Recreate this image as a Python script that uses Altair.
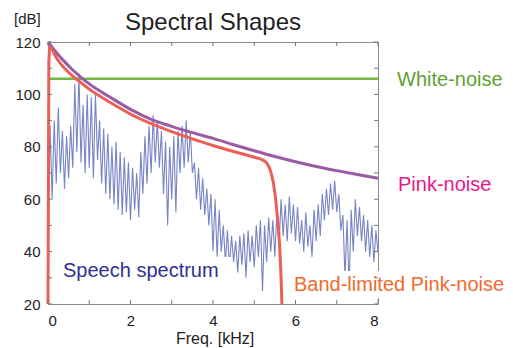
import altair as alt
import pandas as pd

# ---------------- data ----------------
freq_ticks = [0, 1, 2, 3, 4, 5, 6, 7, 8]
db_ticks = [20, 30, 40, 50, 60, 70, 80, 90, 100, 110, 120]
x_labels = [0, 2, 4, 6, 8]
y_labels = [20, 40, 60, 80, 100, 120]

white_x = [0, 8]
white_y = [106, 106]

pink_x = [0, 0.2, 0.4, 0.6, 0.8, 1, 1.5, 2, 2.5, 3, 3.5, 4, 4.5, 5, 5.5, 6, 6.5, 7, 7.5, 8]
pink_y = [120, 116, 112.5, 109.3, 106.5, 104, 99, 94.3, 90.5, 87.8, 85.4, 83.2, 80.8, 78.5,
          76.3, 74.3, 72.5, 70.9, 69.4, 68]

band_x = [0, 0.02, 0.05, 0.2, 0.4, 0.6, 0.8, 1, 1.5, 2, 2.5, 3, 3.5, 4, 4.5, 5, 5.2, 5.3,
          5.4, 5.5, 5.55, 5.6, 5.65, 5.67]
band_y = [20, 112, 118, 114, 110, 107, 104.5, 102, 97, 92.5, 88.8, 85.8, 83, 80.5, 78.2,
          76, 75, 73.8, 70.5, 62.5, 55, 46, 30, 20]

speech_start = 40
speech_peaks = [88, 90, 95, 86, 84, 88, 104, 108, 96, 100,
                99, 100, 90, 87, 85, 80, 82, 78, 76, 74,
                72, 70, 78, 84, 88, 92, 90, 86, 82, 80,
                84, 86, 88, 90, 86, 74, 72, 68, 64, 62,
                60, 56, 50, 48, 46, 44, 46, 47, 48, 46,
                50, 52, 50, 53, 52, 56, 60, 58, 61, 58,
                57, 52, 55, 50, 56, 58, 62, 64, 66, 67,
                62, 54, 52, 56, 60, 57, 54, 52, 50, 48]
speech_troughs = [60, 66, 70, 64, 68, 72, 78, 74, 70, 72,
                  68, 75, 66, 62, 60, 58, 56, 54, 55, 52,
                  56, 53, 62, 66, 70, 74, 72, 62, 50, 60,
                  55, 70, 72, 74, 70, 60, 56, 54, 50, 40,
                  38, 40, 36, 34, 36, 32, 35, 30, 36, 34,
                  38, 25, 36, 40, 38, 42, 46, 44, 47, 44,
                  43, 40, 42, 38, 44, 46, 52, 54, 56, 55,
                  48, 30, 26, 40, 46, 44, 40, 38, 36, 40]

# ---------------- tables ----------------
sp_f = [0.0]
sp_v = [speech_start]
for k, (p, t) in enumerate(zip(speech_peaks, speech_troughs)):
    sp_f += [round(0.1 * k + 0.05, 3), round(0.1 * k + 0.1, 3)]
    sp_v += [p, t]
speech_df = pd.DataFrame({"f": sp_f, "db": sp_v})
white_df = pd.DataFrame({"f": white_x, "db": white_y})
pink_df = pd.DataFrame({"f": pink_x, "db": pink_y})
band_df = pd.DataFrame({"f": band_x, "db": band_y})
fticks_df = pd.DataFrame({"f": freq_ticks})
dticks_df = pd.DataFrame({"db": db_ticks})

FONT = "Liberation Sans"
W, H = 330, 262

xs = alt.Scale(domain=[0, 8], nice=False, zero=False)
ys = alt.Scale(domain=[20, 120], nice=False, zero=False)
x_enc = alt.X("f:Q", scale=xs,
              axis=alt.Axis(values=x_labels, title=None, domain=False, ticks=False,
                            grid=False, labelPadding=9, labelFontSize=15, labelFont=FONT,
                            labelColor="#222"))
y_enc = alt.Y("db:Q", scale=ys,
              axis=alt.Axis(values=y_labels, title=None, domain=False, ticks=False,
                            grid=False, labelPadding=8, labelFontSize=15, labelFont=FONT,
                            labelColor="#222"))

speech = alt.Chart(speech_df).mark_line(color="#6877c0", strokeWidth=1.1, opacity=0.9).encode(x=x_enc, y=y_enc)
white = alt.Chart(white_df).mark_line(color="#72b843", strokeWidth=2.5).encode(x=x_enc, y=y_enc)
pink = alt.Chart(pink_df).mark_line(color="#9a5ba5", strokeWidth=3, interpolate="monotone").encode(x=x_enc, y=y_enc)
band = alt.Chart(band_df).mark_line(color="#ec5f55", strokeWidth=3, interpolate="monotone").encode(x=x_enc, y=y_enc)

tick_color = "#777777"
xt_bottom = alt.Chart(fticks_df).mark_rule(color=tick_color, strokeWidth=1).encode(
    x=x_enc, y=alt.value(H), y2=alt.value(H - 4))
xt_top = alt.Chart(fticks_df).mark_rule(color=tick_color, strokeWidth=1).encode(
    x=x_enc, y=alt.value(0), y2=alt.value(4))
yt_left = alt.Chart(dticks_df).mark_rule(color=tick_color, strokeWidth=1).encode(
    y=y_enc, x=alt.value(0), x2=alt.value(4))
yt_right = alt.Chart(dticks_df).mark_rule(color=tick_color, strokeWidth=1).encode(
    y=y_enc, x=alt.value(W - 4), x2=alt.value(W))

box_speech = alt.Chart(pd.DataFrame({"k": [0]})).mark_rect(color="white").encode(
    x=alt.value(2), x2=alt.value(184), y=alt.value(215), y2=alt.value(245))
box_band = alt.Chart(pd.DataFrame({"k": [0]})).mark_rect(color="white").encode(
    x=alt.value(237), x2=alt.value(460), y=alt.value(229), y2=alt.value(256))


def label(txt, x, y, color, size, align="left"):
    return alt.Chart(pd.DataFrame({"label": [txt]})).mark_text(
        x=x, y=y, align=align, baseline="alphabetic", font=FONT, fontSize=size, color=color
    ).encode(text="label:N")


texts = [
    label("Spectral Shapes", W / 2, -12, "#222222", 24, align="center"),
    label("[dB]", -34, -18, "#222222", 15),
    label("Freq. [kHz]", 167, H + 40, "#222222", 16, align="center"),
    label("White-noise", 349, 44, "#62a033", 20),
    label("Pink-noise", 350, 149, "#e8188b", 20),
    label("Band-limited Pink-noise", 246, 249, "#f26a2d", 20),
    label("Speech spectrum", 15, 235, "#2e3192", 20),
]

chart = alt.layer(
    speech, white, pink, band, box_speech, box_band,
    xt_bottom, xt_top, yt_left, yt_right, *texts
).properties(
    width=W, height=H,
    autosize=alt.AutoSizeParams(type="none"),
    padding={"left": 40, "top": 34, "right": 127, "bottom": 44},
    background="white",
).configure_view(stroke="#8c8c8c", strokeWidth=1, fill="#f2f2f2")

chart.save("out.html", embed_options={"renderer": "svg", "actions": False})
